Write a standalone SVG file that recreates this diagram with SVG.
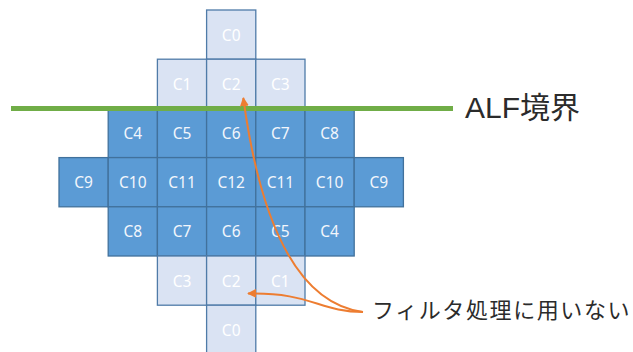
<svg xmlns="http://www.w3.org/2000/svg" width="633" height="352" viewBox="0 0 633 352">
<style>
.d rect{fill:#5B9BD5;stroke:#41719C;stroke-width:1.3}
.l rect{fill:#DAE3F3;stroke:#4F7BA8;stroke-width:1.3}
.d text,.l text{font-family:"Noto Sans","Liberation Sans",sans-serif;font-size:15.5px;text-anchor:middle;dominant-baseline:central}
.d text{fill:#F2F6FC}
.l text{fill:#FFFFFF}
.lab{font-family:"Liberation Sans","Noto Sans CJK JP",sans-serif;fill:#2B2B2B}
.arr{fill:none;stroke:#ED7D31;stroke-width:2}
</style>
<defs>
<marker id="ah" viewBox="0 0 10 10" refX="9" refY="5" markerWidth="4.5" markerHeight="4.5" orient="auto" markerUnits="strokeWidth">
<path d="M0,0 L10,5 L0,10 z" fill="#ED7D31"/>
</marker>
</defs>
<rect width="633" height="352" fill="#FFFFFF"/>
<g id="cells">
<g id="r0c3" class="l"><rect x="206.6" y="10" width="49.2" height="49.2"/><text x="231.2" y="34.6">C0</text></g>
<g id="r1c2" class="l"><rect x="157.4" y="59.2" width="49.2" height="49.2"/><text x="182" y="83.8">C1</text></g>
<g id="r1c3" class="l"><rect x="206.6" y="59.2" width="49.2" height="49.2"/><text x="231.2" y="83.8">C2</text></g>
<g id="r1c4" class="l"><rect x="255.8" y="59.2" width="49.2" height="49.2"/><text x="280.4" y="83.8">C3</text></g>
<g id="r2c1" class="d"><rect x="108.2" y="108.4" width="49.2" height="49.2"/><text x="132.8" y="133">C4</text></g>
<g id="r2c2" class="d"><rect x="157.4" y="108.4" width="49.2" height="49.2"/><text x="182" y="133">C5</text></g>
<g id="r2c3" class="d"><rect x="206.6" y="108.4" width="49.2" height="49.2"/><text x="231.2" y="133">C6</text></g>
<g id="r2c4" class="d"><rect x="255.8" y="108.4" width="49.2" height="49.2"/><text x="280.4" y="133">C7</text></g>
<g id="r2c5" class="d"><rect x="305" y="108.4" width="49.2" height="49.2"/><text x="329.6" y="133">C8</text></g>
<g id="r3c0" class="d"><rect x="59" y="157.6" width="49.2" height="49.2"/><text x="83.6" y="182.2">C9</text></g>
<g id="r3c1" class="d"><rect x="108.2" y="157.6" width="49.2" height="49.2"/><text x="132.8" y="182.2">C10</text></g>
<g id="r3c2" class="d"><rect x="157.4" y="157.6" width="49.2" height="49.2"/><text x="182" y="182.2">C11</text></g>
<g id="r3c3" class="d"><rect x="206.6" y="157.6" width="49.2" height="49.2"/><text x="231.2" y="182.2">C12</text></g>
<g id="r3c4" class="d"><rect x="255.8" y="157.6" width="49.2" height="49.2"/><text x="280.4" y="182.2">C11</text></g>
<g id="r3c5" class="d"><rect x="305" y="157.6" width="49.2" height="49.2"/><text x="329.6" y="182.2">C10</text></g>
<g id="r3c6" class="d"><rect x="354.2" y="157.6" width="49.2" height="49.2"/><text x="378.8" y="182.2">C9</text></g>
<g id="r4c1" class="d"><rect x="108.2" y="206.8" width="49.2" height="49.2"/><text x="132.8" y="231.4">C8</text></g>
<g id="r4c2" class="d"><rect x="157.4" y="206.8" width="49.2" height="49.2"/><text x="182" y="231.4">C7</text></g>
<g id="r4c3" class="d"><rect x="206.6" y="206.8" width="49.2" height="49.2"/><text x="231.2" y="231.4">C6</text></g>
<g id="r4c4" class="d"><rect x="255.8" y="206.8" width="49.2" height="49.2"/><text x="280.4" y="231.4">C5</text></g>
<g id="r4c5" class="d"><rect x="305" y="206.8" width="49.2" height="49.2"/><text x="329.6" y="231.4">C4</text></g>
<g id="r5c2" class="l"><rect x="157.4" y="256" width="49.2" height="49.2"/><text x="182" y="280.6">C3</text></g>
<g id="r5c3" class="l"><rect x="206.6" y="256" width="49.2" height="49.2"/><text x="231.2" y="280.6">C2</text></g>
<g id="r5c4" class="l"><rect x="255.8" y="256" width="49.2" height="49.2"/><text x="280.4" y="280.6">C1</text></g>
<g id="r6c3" class="l"><rect x="206.6" y="305.2" width="49.2" height="49.2"/><text x="231.2" y="329.8">C0</text></g>
</g>
<g id="alf-boundary">
<line x1="11" y1="108.6" x2="453" y2="108.6" stroke="#70AD47" stroke-width="5"/>
<text class="lab" x="465" y="117.5" font-size="30">ALF境界</text>
</g>
<g id="note">
<text class="lab" x="372" y="318" font-size="22" letter-spacing="1.6">フィルタ処理に用いない</text>
</g>
<g id="connectors">
<path class="arr" d="M363,312 C310,305 264,250 243.3,98" marker-end="url(#ah)"/>
<path class="arr" d="M363,312 C320,312 310,292 248,293.6" marker-end="url(#ah)"/>
</g>
</svg>
